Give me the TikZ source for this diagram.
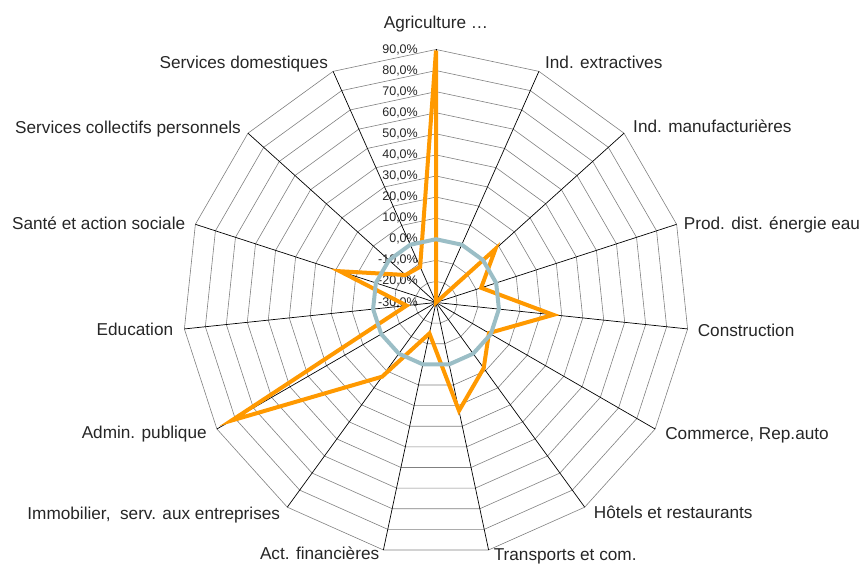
\documentclass[tikz,border=0pt]{standalone}
\usepackage{fontspec}
\setmainfont{Liberation Sans}
\usetikzlibrary{calc}
\definecolor{serieorange}{RGB}{255,153,0}
\definecolor{seriegray}{RGB}{155,190,198}

\begin{document}
\begin{tikzpicture}[x=1pt,y=1pt]

% TikZ styles
\tikzset{
  ring/.style={draw=black!50, line width=0.6pt},
  spoke/.style={draw=black, line width=0.7pt},
  ticklabel/.style={anchor=east, inner sep=0pt, text=black!85, font=\fontsize{12.5}{14}\selectfont},
  catlabel/.style={inner sep=0pt, text=black!85, font=\fontsize{17.2}{20}\selectfont},
  series/.style={line width=4pt}
}

\useasboundingbox (0,0) rectangle (860,564);

\begin{scope}[shift={(436,261.5)}]
\coordinate (ctr) at (0,0);

%==========================
% Gitter: Ringe und Achsen
%==========================
\foreach \k in {1,...,12}{
  \draw[ring] (90:\k*21.0833) \foreach \i [evaluate=\i as \a using 90-24*\i] in {1,...,14}{ -- (\a:\k*21.0833) } -- cycle;
}
\foreach \i [evaluate=\i as \a using 90-24*\i] in {0,...,14}{
  \coordinate (ax\i) at (\a:253);
  \draw[spoke] (ctr) -- (ax\i);
}

% Skala
\foreach \k [evaluate=\k as \v using int(10*\k-30)] in {0,...,12}
  \node[ticklabel] (tick\k) at (-18,\k*21.0833) {\v,0\%};

% Kategorien
\foreach \i/\txt/\anc/\dx/\dy in {
  0/{Agriculture \dots}/base/0/20.5,
  1/{Ind. extractives}/base west/6/2.5,
  2/{Ind. manufacturières}/base west/9/0.5,
  3/{Prod. dist. énergie eau}/base west/7/-5.5,
  4/{Construction}/base west/10/-7.5,
  5/{Commerce, Rep.auto}/base west/10/-10.5,
  6/{Hôtels et restaurants}/base west/9/-11,
  7/{Transports et com.}/base west/5/-10.5,
  8/{Act. financières}/base east/-4/-10,
  9/{Immobilier, \ serv. aux entreprises}/base east/-7/-12,
  10/{Admin. publique}/base east/-10/-10,
  11/{Education}/base east/-11/-7,
  12/{Santé et action sociale}/base east/-10/-5,
  13/{Services collectifs personnels}/base east/-7/0,
  14/{Services domestiques}/base east/-5/3}
  \node[catlabel, anchor=\anc] (lab\i) at ($(ax\i)+(\dx,\dy)$) {\txt};

%==========================
% Datenreihen
%==========================
\foreach \v [count=\i from 0, evaluate=\i as \a using 90-24*\i] in {89.5,-30,8,-7.5,26,-1,8.5,22.5,-15,13.5,82,-16,18,-10.5,-11.5}
  \coordinate (o\i) at (\a:{(\v+30)*2.10833});
\draw[series, serieorange] (o0) -- (o1) -- (o2) -- (o3) -- (o4) -- (o5) -- (o6) -- (o7)
  -- (o8) -- (o9) -- (o10) -- (o11) -- (o12) -- (o13) -- (o14) -- cycle;

\draw[series, seriegray] (90:63.25) \foreach \i [evaluate=\i as \a using 90-24*\i] in {1,...,14}{ -- (\a:63.25) } -- cycle;
\end{scope}
\end{tikzpicture}
\end{document}
